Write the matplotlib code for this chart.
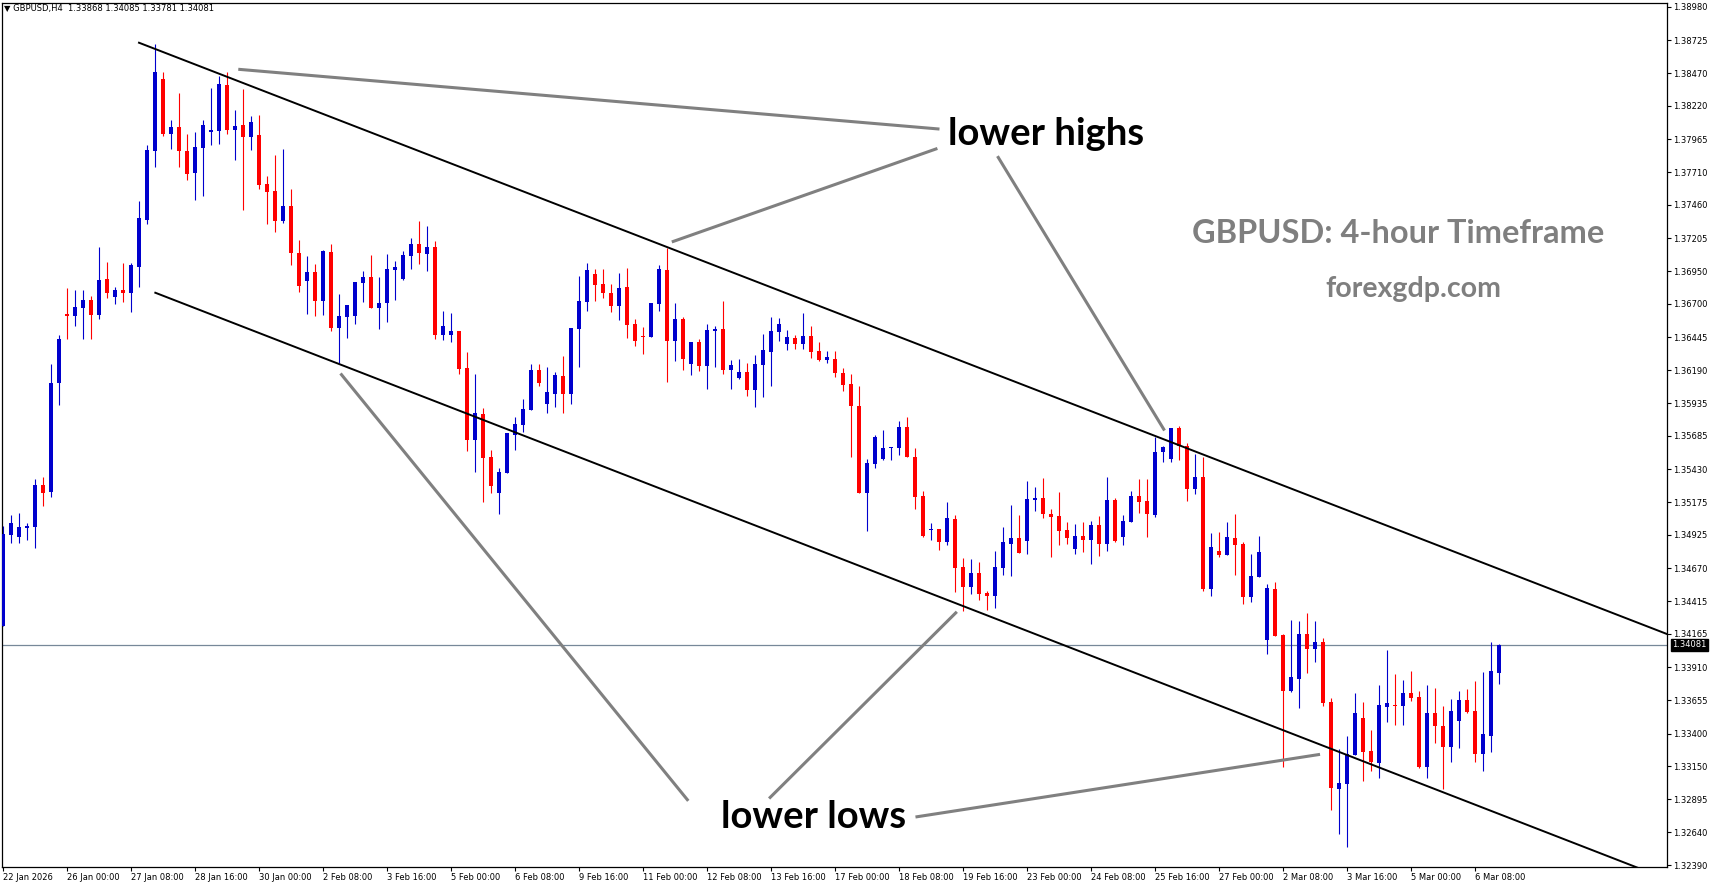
import numpy as np
import matplotlib.pyplot as plt
from matplotlib.transforms import blended_transform_factory

# GBPUSD H4 candles, bar 0 = 22 Jan 2026 16:00
opens = [
    1.34228, 1.34927, 1.34911, 1.34980, 1.34988, 1.35308, 1.35257, 1.36090, 1.36622, 1.36609,
    1.36670, 1.36729, 1.36614, 1.36890, 1.36755, 1.36806, 1.36785, 1.36985, 1.37346, 1.37876,
    1.38426, 1.38006, 1.38058, 1.37876, 1.37707, 1.37899, 1.38022, 1.38029, 1.38380, 1.38035,
    1.38073, 1.37981, 1.37996, 1.37620, 1.37566, 1.37336, 1.37451, 1.37090, 1.36875, 1.36944,
    1.36722, 1.37098, 1.36514, 1.36599, 1.36606, 1.36860, 1.36906, 1.36668, 1.36706, 1.36960,
    1.36890, 1.37067, 1.37159, 1.37083, 1.37136, 1.36460, 1.36460, 1.36491, 1.36207, 1.35654,
    1.35854, 1.35523, 1.35247, 1.35401, 1.35692, 1.35769, 1.35884, 1.36192, 1.35931, 1.36007,
    1.36146, 1.36007, 1.36507, 1.36714, 1.36929, 1.36852, 1.36783, 1.36683, 1.36829, 1.36545,
    1.36453, 1.36445, 1.36699, 1.36960, 1.36414, 1.36583, 1.36238, 1.36407, 1.36222, 1.36491,
    1.36507, 1.36192, 1.36130, 1.36176, 1.36038, 1.36230, 1.36330, 1.36483, 1.36391, 1.36437,
    1.36391, 1.36453, 1.36338, 1.36268, 1.36276, 1.36169, 1.36084, 1.35915, 1.35247, 1.35470,
    1.35508, 1.35593, 1.35593, 1.35754, 1.35523, 1.35224, 1.34963, 1.34971, 1.34871, 1.35047,
    1.34679, 1.34525, 1.34633, 1.34479, 1.34456, 1.34671, 1.34855, 1.34901, 1.34878, 1.35193,
    1.35209, 1.35086, 1.35070, 1.34963, 1.34817, 1.34917, 1.34886, 1.35001, 1.34855, 1.35193,
    1.34909, 1.35024, 1.35224, 1.35186, 1.35078, 1.35562, 1.35508, 1.35746, 1.35608, 1.35278,
    1.35370, 1.34510, 1.34802, 1.34771, 1.34901, 1.34855, 1.34448, 1.34602, 1.34118, 1.34510,
    1.34156, 1.33726, 1.33818, 1.34164, 1.34049, 1.34103, 1.33642, 1.32974, 1.33012, 1.33235,
    1.33519, 1.33266, 1.33173, 1.33603, 1.33619, 1.33611, 1.33711, 1.33680, 1.33143, 1.33557,
    1.33458, 1.33296, 1.33496, 1.33657, 1.33573, 1.33243, 1.33381, 1.33868,
]
highs = [
    1.34994, 1.35078, 1.35093, 1.35017, 1.35355, 1.35370, 1.36238, 1.36460, 1.36824, 1.36806,
    1.36806, 1.36760, 1.37136, 1.37021, 1.36829, 1.37013, 1.37011, 1.37490, 1.37920, 1.38695,
    1.38480, 1.38112, 1.38319, 1.38004, 1.38019, 1.38112, 1.38357, 1.38450, 1.38480, 1.38188,
    1.38350, 1.38142, 1.38150, 1.37682, 1.37843, 1.37889, 1.37582, 1.37190, 1.37067, 1.37006,
    1.37113, 1.37159, 1.36775, 1.36691, 1.36867, 1.36952, 1.37075, 1.36906, 1.37083, 1.37029,
    1.37106, 1.37205, 1.37336, 1.37298, 1.37182, 1.36645, 1.36629, 1.36491, 1.36330, 1.36161,
    1.35900, 1.35577, 1.35439, 1.35708, 1.35831, 1.35969, 1.36238, 1.36238, 1.36215, 1.36176,
    1.36299, 1.36514, 1.36914, 1.37013, 1.36967, 1.36967, 1.36852, 1.36937, 1.36975, 1.36583,
    1.36522, 1.36706, 1.36998, 1.37129, 1.36706, 1.36599, 1.36407, 1.36430, 1.36545, 1.36530,
    1.36722, 1.36268, 1.36276, 1.36245, 1.36307, 1.36468, 1.36599, 1.36591, 1.36499, 1.36460,
    1.36629, 1.36530, 1.36407, 1.36338, 1.36338, 1.36207, 1.36161, 1.36069, 1.35508, 1.35692,
    1.35731, 1.35600, 1.35800, 1.35831, 1.35593, 1.35262, 1.35017, 1.34971, 1.35178, 1.35078,
    1.34748, 1.34740, 1.34717, 1.34494, 1.34802, 1.34986, 1.35155, 1.35078, 1.35339, 1.35293,
    1.35362, 1.35124, 1.35255, 1.35024, 1.35009, 1.35024, 1.35032, 1.35070, 1.35370, 1.35209,
    1.35078, 1.35262, 1.35355, 1.35355, 1.35677, 1.35608, 1.35746, 1.35762, 1.35631, 1.35547,
    1.35523, 1.34940, 1.34947, 1.35024, 1.35086, 1.34871, 1.34778, 1.34917, 1.34548, 1.34563,
    1.34164, 1.34272, 1.34264, 1.34325, 1.34264, 1.34133, 1.33673, 1.33281, 1.33381, 1.33711,
    1.33642, 1.33427, 1.33772, 1.34041, 1.33857, 1.33811, 1.33880, 1.33726, 1.33772, 1.33749,
    1.33611, 1.33665, 1.33726, 1.33742, 1.33803, 1.33872, 1.34103, 1.34085,
]
lows = [
    1.34226, 1.34865, 1.34865, 1.34888, 1.34827, 1.35149, 1.35214, 1.35923, 1.36430, 1.36530,
    1.36430, 1.36430, 1.36583, 1.36747, 1.36701, 1.36716, 1.36639, 1.36831, 1.37315, 1.37748,
    1.37989, 1.37889, 1.37753, 1.37651, 1.37500, 1.37530, 1.37920, 1.37927, 1.38004, 1.37804,
    1.37420, 1.37881, 1.37582, 1.37313, 1.37251, 1.37321, 1.36998, 1.36791, 1.36622, 1.36606,
    1.36614, 1.36491, 1.36243, 1.36437, 1.36545, 1.36714, 1.36668, 1.36507, 1.36560, 1.36729,
    1.36883, 1.36967, 1.37006, 1.36952, 1.36430, 1.36422, 1.36407, 1.36161, 1.35570, 1.35408,
    1.35178, 1.35247, 1.35086, 1.35401, 1.35577, 1.35715, 1.35884, 1.36069, 1.35861, 1.35907,
    1.35861, 1.35931, 1.36215, 1.36645, 1.36722, 1.36745, 1.36637, 1.36576, 1.36437, 1.36376,
    1.36315, 1.36445, 1.36645, 1.36099, 1.36261, 1.36192, 1.36153, 1.36184, 1.36046, 1.36215,
    1.36161, 1.36046, 1.36123, 1.35992, 1.35907, 1.35984, 1.36069, 1.36414, 1.36345, 1.36353,
    1.36353, 1.36284, 1.36261, 1.36245, 1.36138, 1.36030, 1.35523, 1.35247, 1.34955, 1.35439,
    1.35500, 1.35500, 1.35539, 1.35523, 1.35124, 1.34909, 1.34886, 1.34809, 1.34848, 1.34487,
    1.34341, 1.34471, 1.34425, 1.34348, 1.34364, 1.34617, 1.34610, 1.34786, 1.34778, 1.35109,
    1.35055, 1.34755, 1.34848, 1.34855, 1.34778, 1.34794, 1.34702, 1.34763, 1.34802, 1.34871,
    1.34848, 1.35024, 1.35093, 1.34909, 1.35063, 1.35485, 1.35485, 1.35500, 1.35186, 1.35239,
    1.34494, 1.34456, 1.34755, 1.34771, 1.34617, 1.34395, 1.34410, 1.34602, 1.34010, 1.34149,
    1.33143, 1.33719, 1.33596, 1.33865, 1.33949, 1.33611, 1.32812, 1.32628, 1.32528, 1.33235,
    1.33035, 1.33112, 1.33058, 1.33488, 1.33465, 1.33465, 1.33650, 1.33135, 1.33058, 1.33327,
    1.32974, 1.33181, 1.33289, 1.33557, 1.33181, 1.33112, 1.33258, 1.33781,
]
closes = [
    1.34932, 1.35014, 1.34986, 1.34996, 1.35308, 1.35249, 1.36090, 1.36427, 1.36609, 1.36675,
    1.36729, 1.36614, 1.36883, 1.36781, 1.36806, 1.36785, 1.36998, 1.37359, 1.37881, 1.38480,
    1.38004, 1.38058, 1.37876, 1.37699, 1.37904, 1.38073, 1.38037, 1.38388, 1.38035, 1.38066,
    1.37981, 1.38096, 1.37612, 1.37559, 1.37336, 1.37451, 1.37090, 1.36837, 1.36944, 1.36722,
    1.37106, 1.36514, 1.36606, 1.36691, 1.36867, 1.36906, 1.36668, 1.36706, 1.36967, 1.36983,
    1.37075, 1.37159, 1.37090, 1.37136, 1.36460, 1.36530, 1.36491, 1.36199, 1.35654, 1.35861,
    1.35516, 1.35301, 1.35408, 1.35708, 1.35777, 1.35892, 1.36192, 1.36092, 1.36023, 1.36153,
    1.36007, 1.36514, 1.36722, 1.36960, 1.36844, 1.36783, 1.36683, 1.36821, 1.36537, 1.36414,
    1.36445, 1.36706, 1.36967, 1.36414, 1.36583, 1.36276, 1.36407, 1.36222, 1.36499, 1.36507,
    1.36192, 1.36230, 1.36176, 1.36038, 1.36238, 1.36345, 1.36491, 1.36545, 1.36445, 1.36391,
    1.36453, 1.36330, 1.36268, 1.36291, 1.36169, 1.36076, 1.35915, 1.35247, 1.35477, 1.35677,
    1.35593, 1.35600, 1.35754, 1.35523, 1.35216, 1.34917, 1.34971, 1.34871, 1.35055, 1.34671,
    1.34525, 1.34633, 1.34471, 1.34456, 1.34679, 1.34871, 1.34901, 1.34786, 1.35201, 1.35209,
    1.35086, 1.35063, 1.34955, 1.34901, 1.34917, 1.34886, 1.35001, 1.34855, 1.35193, 1.34878,
    1.35032, 1.35224, 1.35178, 1.35086, 1.35562, 1.35600, 1.35746, 1.35608, 1.35278, 1.35370,
    1.34510, 1.34832, 1.34771, 1.34909, 1.34848, 1.34448, 1.34610, 1.34794, 1.34517, 1.34149,
    1.33726, 1.33834, 1.34164, 1.34049, 1.34103, 1.33634, 1.32981, 1.33020, 1.33243, 1.33557,
    1.33258, 1.33181, 1.33619, 1.33634, 1.33611, 1.33711, 1.33673, 1.33143, 1.33557, 1.33458,
    1.33296, 1.33573, 1.33657, 1.33565, 1.33243, 1.33396, 1.33880, 1.34081,
]

# time axis labels, one every 8 bars
date_labels = ["22 Jan 2026", "26 Jan 00:00", "27 Jan 08:00", "28 Jan 16:00", "30 Jan 00:00",
               "2 Feb 08:00", "3 Feb 16:00", "5 Feb 00:00", "6 Feb 08:00", "9 Feb 16:00",
               "11 Feb 00:00", "12 Feb 08:00", "13 Feb 16:00", "17 Feb 00:00", "18 Feb 08:00",
               "19 Feb 16:00", "23 Feb 00:00", "24 Feb 08:00", "25 Feb 16:00", "27 Feb 00:00",
               "2 Mar 08:00", "3 Mar 16:00", "5 Mar 00:00", "6 Mar 08:00"]
price_ticks = [1.38980, 1.38725, 1.38470, 1.38220, 1.37965, 1.37710, 1.37460, 1.37205, 1.36950,
               1.36700, 1.36445, 1.36190, 1.35935, 1.35685, 1.35430, 1.35175, 1.34925, 1.34670,
               1.34415, 1.34165, 1.33910, 1.33655, 1.33400, 1.33150, 1.32895, 1.32640, 1.32390]
last_price = 1.34081

# channel lines (bar index, price)
upper_channel = [(17.0, 1.38705), (208.0, 1.34164)]
lower_channel = [(19.04, 1.36785), (204.6, 1.32363)]
# grey pointer lines
pointer_lines = [
    [(29.41, 1.38501), (117.06, 1.38042)],
    [(83.6, 1.37175), (116.8, 1.37893)],
    [(124.31, 1.37834), (145.19, 1.35727)],
    [(42.19, 1.36165), (85.66, 1.32883)],
    [(95.76, 1.32901), (119.23, 1.34335)],
    [(114.06, 1.32759), (164.63, 1.33240)],
]

W, H = 1713, 888
fig = plt.figure(figsize=(W / 100, H / 100), dpi=100)
ax = fig.add_axes([2 / W, 21 / H, 1665 / W, 864 / H])

o = np.array(opens); h = np.array(highs); l = np.array(lows); c = np.array(closes)
x = np.arange(len(o))
bull = c >= o
cols = np.where(bull, '#0000CD', '#FF0000')

ax.vlines(x, l, h, colors=cols, linewidth=0.8, zorder=2)
body = np.maximum(np.abs(c - o), 0.00008)
ax.bar(x, body, bottom=np.minimum(o, c), width=0.62, color=cols, linewidth=0, zorder=3)

ax.axhline(last_price, color='#778899', lw=0.9, zorder=1)

for pts in [upper_channel, lower_channel]:
    ax.plot([p[0] for p in pts], [p[1] for p in pts], color='black', lw=1.4, zorder=4)
for pts in pointer_lines:
    ax.plot([p[0] for p in pts], [p[1] for p in pts], color='#808080', lw=2.2,
            solid_capstyle='butt', zorder=4)

ax.set_xlim(-0.125, 208)
ax.set_ylim(1.32375, 1.39010)

ax.yaxis.tick_right()
ax.set_yticks(price_ticks)
ax.set_yticklabels([f"{v:.5f}" for v in price_ticks])
ax.set_xticks(np.arange(0, len(date_labels) * 8, 8))
ax.set_xticklabels(date_labels, ha='left')
ax.tick_params(axis='both', direction='out', length=3, width=0.8, labelsize=6, pad=1.5,
               colors='black')
for s in ax.spines.values():
    s.set_color('black')
    s.set_linewidth(0.9)

# last price tag on the scale
tr = blended_transform_factory(ax.transAxes, ax.transData)
ax.text(1.003, last_price, f"{last_price:.5f}", transform=tr, color='white', fontsize=6,
        va='center', ha='left',
        bbox=dict(boxstyle='square,pad=0.15', fc='black', ec='black'), clip_on=False)

# header
fig.text(4 / W, 1 - 9 / H, "\u25BC GBPUSD,H4  1.33868 1.34085 1.33781 1.34081",
         fontsize=6, va='center', ha='left')

fig.text(948 / W, 1 - 134 / H, "lower highs", fontsize=27.5, fontweight='bold',
         family='Lato', va='center', ha='left')
fig.text(721 / W, 1 - 817 / H, "lower lows", fontsize=27.5, fontweight='bold',
         family='Lato', va='center', ha='left')
fig.text(1192 / W, 1 - 242.7 / H, "GBPUSD: 4-hour Timeframe", fontsize=23.4, fontweight='bold',
         family='Lato', color='#7F7F7F', va='baseline', ha='left')
fig.text(1325 / W, 1 - 296.7 / H, "forexgdp.com", fontsize=20.5, fontweight='bold',
         family='Lato', color='#7F7F7F', va='baseline', ha='left')

fig.savefig('out.png', dpi=100)
